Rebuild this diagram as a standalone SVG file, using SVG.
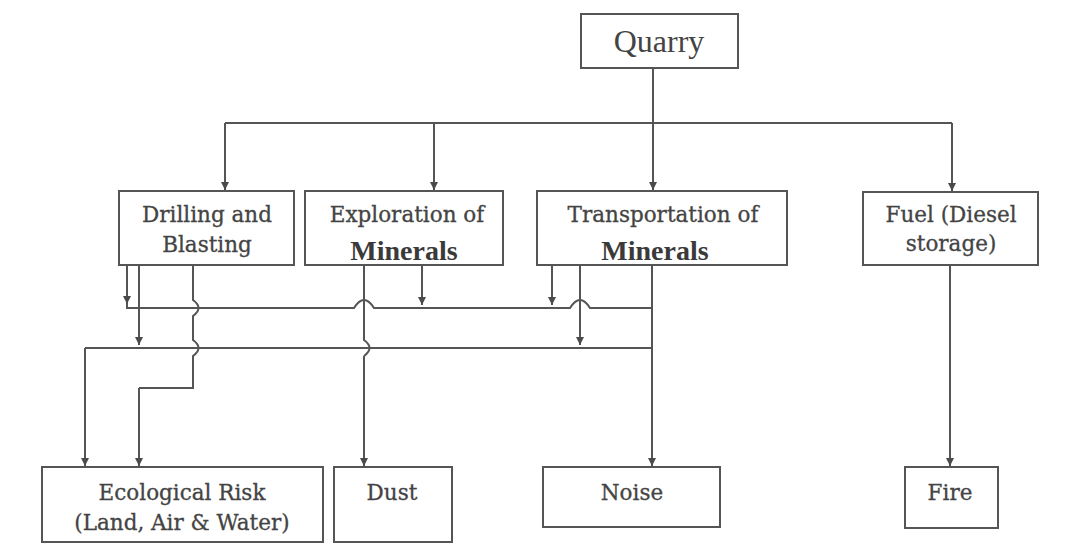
<svg xmlns="http://www.w3.org/2000/svg" width="1081" height="544" viewBox="0 0 1081 544">
<defs>
<marker id="ah" viewBox="0 0 10 10" refX="10" refY="5" markerWidth="4" markerHeight="4" orient="auto" markerUnits="strokeWidth">
<path d="M0,0 L10,5 L0,10 z" fill="#4a4a4a"/>
</marker>
<style>
.box{fill:#ffffff;stroke:#555;stroke-width:2}
.t{font-family:"DejaVu Serif","Liberation Serif",serif;font-size:21.5px;fill:#444;stroke:#444;stroke-width:0.3;text-anchor:middle}
.m{font-family:"Liberation Serif","DejaVu Serif",serif;font-size:28px;font-weight:bold;fill:#3a3a3a;text-anchor:middle}
.q{font-family:"Liberation Serif","DejaVu Serif",serif;font-size:32px;fill:#444;text-anchor:middle}
.c{fill:none;stroke:#555;stroke-width:2}
.a{fill:none;stroke:#555;stroke-width:2;marker-end:url(#ah)}
</style>
</defs>
<rect width="1081" height="544" fill="#ffffff"/>
<g id="connectors">
<path class="c" d="M225,123 H952"/>
<path class="a" d="M653,68 V190"/>
<path class="a" d="M225,123 V190"/>
<path class="a" d="M434,123 V190"/>
<path class="a" d="M952,123 V191"/>
<path class="a" d="M127,265 V304"/>
<path class="c" d="M127,304 V308 H354 Q364,292 374,308 H570 Q580,292 590,308 H652"/>
<path class="a" d="M139,265 V345"/>
<path class="c" d="M652,348 H85"/>
<path class="a" d="M85,348 V466"/>
<path class="c" d="M193,265 V300 Q204,308 193,316 V340 Q204,348 193,356 V388 H139"/>
<path class="a" d="M139,388 V466"/>
<path class="a" d="M422,265 V305"/>
<path class="c" d="M364,265 V340 Q375,348 364,356"/>
<path class="a" d="M364,356 V466"/>
<path class="a" d="M552,265 V305"/>
<path class="a" d="M580,265 V345"/>
<path class="a" d="M652,265 V466"/>
<path class="a" d="M950,265 V466"/>
</g>
<g id="quarry">
<rect class="box" x="581" y="14" width="157" height="54"/>
<text class="q" x="659" y="52">Quarry</text>
</g>
<g id="drilling">
<rect class="box" x="119" y="191" width="175" height="74"/>
<text class="t" x="207" y="222">Drilling and</text>
<text class="t" x="207" y="252">Blasting</text>
</g>
<g id="exploration">
<rect class="box" x="305" y="191" width="198" height="74"/>
<text class="t" x="407" y="222">Exploration of</text>
<text class="m" x="404" y="260">Minerals</text>
</g>
<g id="transportation">
<rect class="box" x="537" y="191" width="250" height="74"/>
<text class="t" x="663" y="222">Transportation of</text>
<text class="m" x="655" y="260">Minerals</text>
</g>
<g id="fuel">
<rect class="box" x="863" y="192" width="175" height="73"/>
<text class="t" x="951" y="222">Fuel (Diesel</text>
<text class="t" x="951" y="251">storage)</text>
</g>
<g id="ecological">
<rect class="box" x="42" y="467" width="281" height="75"/>
<text class="t" x="182" y="500">Ecological Risk</text>
<text class="t" x="182" y="530">(Land, Air &amp; Water)</text>
</g>
<g id="dust">
<rect class="box" x="334" y="467" width="118" height="75"/>
<text class="t" x="392" y="500">Dust</text>
</g>
<g id="noise">
<rect class="box" x="543" y="467" width="177" height="60"/>
<text class="t" x="632" y="500">Noise</text>
</g>
<g id="fire">
<rect class="box" x="905" y="467" width="93" height="61"/>
<text class="t" x="950" y="500">Fire</text>
</g>
</svg>
